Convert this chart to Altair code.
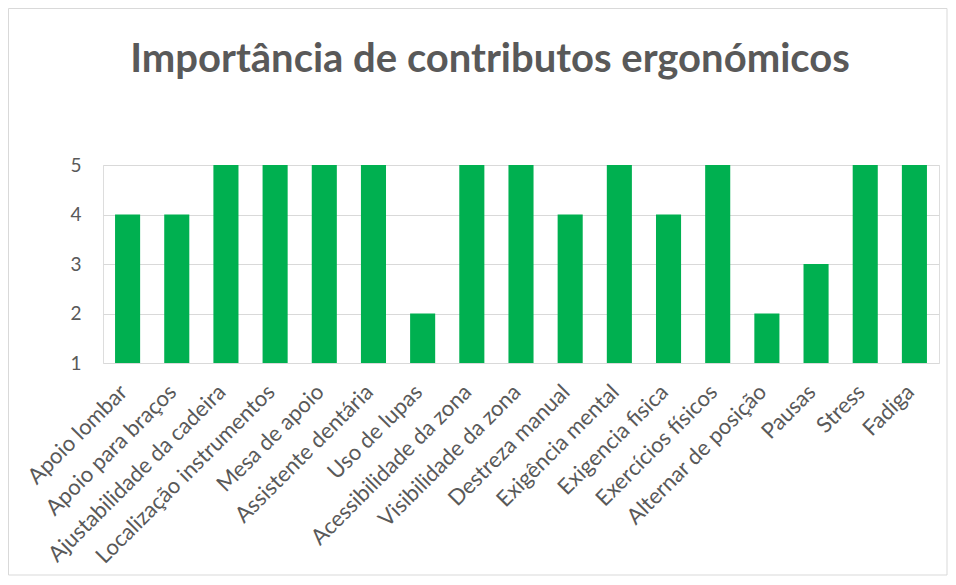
import altair as alt
import pandas as pd

categories = ["Apoio lombar", "Apoio para braços", "Ajustabilidade da cadeira",
              "Localização instrumentos", "Mesa de apoio", "Assistente dentária",
              "Uso de lupas", "Acessibilidade da zona", "Visibilidade da zona",
              "Destreza manual", "Exigência mental", "Exigencia fisica",
              "Exercícios físicos", "Alternar de posição", "Pausas", "Stress", "Fadiga"]
values = [4, 4, 5, 5, 5, 5, 2, 5, 5, 4, 5, 4, 5, 2, 3, 5, 5]
y_ticks = [1, 2, 3, 4, 5]

df = pd.DataFrame({"cat": categories, "val": values, "base": [1] * len(values)})

FONT = "Lato"
GREY = "#595959"

bars = alt.Chart(df).mark_bar(color="#00B050").encode(
    x=alt.X("cat:N", sort=categories,
            scale=alt.Scale(paddingInner=0.49, paddingOuter=0.245),
            axis=alt.Axis(title=None, labelAngle=-45, labelAlign="right", labelBaseline="top",
                          labelFont=FONT, labelFontSize=22, labelColor=GREY, labelPadding=18,
                          labelOffset=-11, labelLimit=0, labelOverlap=False,
                          ticks=False, domain=False, grid=False)),
    y=alt.Y("val:Q", scale=alt.Scale(domain=[1, 5], nice=False, zero=False),
            axis=alt.Axis(title=None, values=y_ticks, format="d", labelFont=FONT,
                          labelFontSize=19, labelColor=GREY, labelPadding=22,
                          ticks=False, domain=False, gridColor="#d9d9d9", gridWidth=1)),
    y2=alt.Y2("base:Q"),
)

border = alt.Chart(pd.DataFrame({"k": [0]})).mark_rect(
    fill=None, stroke="#d9d9d9", strokeWidth=1
).encode(x=alt.value(-94.5), x2=alt.value(844), y=alt.value(-156.5), y2=alt.value(410))

chart = alt.layer(border, bars).properties(
    width=836, height=198,
    title=alt.TitleParams("Importância de contributos ergonómicos", font=FONT, fontSize=40,
                          fontWeight="bold", color=GREY, anchor="middle", offset=-72, dx=-31),
    autosize=alt.AutoSizeParams(type="none"),
    padding={"left": 95, "top": 157, "right": 9, "bottom": 213},
).configure_view(stroke=None).configure(background="white")

chart.save("out.html", embed_options={"renderer": "svg", "actions": False})
